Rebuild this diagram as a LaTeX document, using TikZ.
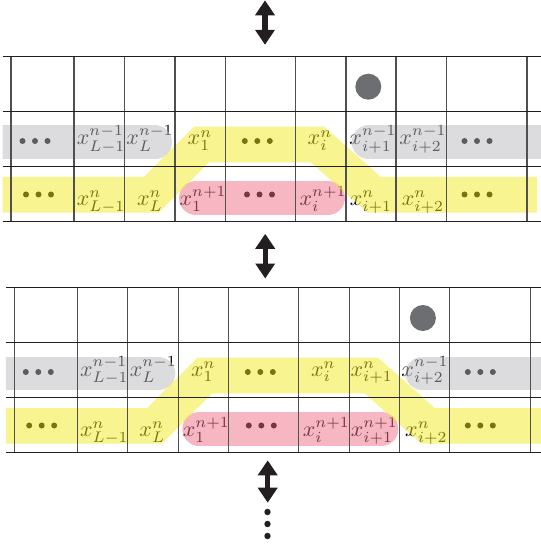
\documentclass[tikz,border=0pt]{standalone}
\usetikzlibrary{arrows.meta}
\definecolor{bandgray}{RGB}{185,185,189}
\definecolor{bandyellow}{RGB}{241,233,31}
\definecolor{bandpink}{RGB}{237,111,135}
\definecolor{hlinec}{RGB}{35,31,32}
\definecolor{vlinec}{RGB}{80,80,82}
\definecolor{ballc}{RGB}{109,110,113}
\definecolor{arrowc}{RGB}{35,31,32}
\newcommand{\threedots}[2]{%
  \fill (#1-12.5,#2) circle[radius=3];
  \fill (#1,#2) circle[radius=3];
  \fill (#1+12.5,#2) circle[radius=3];}
\newcommand{\gridlines}{%
  \foreach \vx in {11,74,124.5,175,225.5,295.5,346,396,446.5,527}
    \draw[vline] (\vx,56.5) -- (\vx,221.3);
  \foreach \hy in {56.5,111.5,166.5,221.3}
    \draw[hline] (2.5,\hy) -- (545,\hy);}
\begin{document}
\begin{tikzpicture}[x=0.4545pt,y=-0.4545pt,
  hline/.style={draw=hlinec,line width=0.6pt},
  vline/.style={draw=vlinec,line width=0.6pt},
  lbl/.style={anchor=base,inner sep=0pt,font=\fontsize{10}{12}\selectfont},
  band/.style={opacity=0.5,line join=miter},
  grayband/.style={band,draw=bandgray,line width=15.45pt,line cap=round},
  pinkband/.style={band,draw=bandpink,line width=15.45pt,line cap=round},
  yellowband/.style={band,draw=bandyellow,line width=16.2pt,line cap=butt},
  ball/.style={fill=ballc},
  bigarrow/.style={draw=arrowc,line width=2.3pt,
    {Triangle[width=8.6pt,length=6.8pt]}-{Triangle[width=8.6pt,length=6.8pt]}}]
\useasboundingbox (0,0) rectangle (540,548);

% ---------- top grid ----------
\begin{scope}
\clip (2.5,50) rectangle (545,230);
\node[lbl] (a21) at (101,145) {$x^{n-1}_{L-1}$};
\node[lbl] (a22) at (150,145) {$x^{n-1}_{L}$};
\node[lbl] (a23) at (200,145) {$x^{n}_{1}$};
\node[lbl] (a24) at (320,145) {$x^{n}_{i}$};
\node[lbl] (a25) at (373,145) {$x^{n-1}_{i+1}$};
\node[lbl] (a26) at (423,145) {$x^{n-1}_{i+2}$};
\node[lbl] (a31) at (101,205.5) {$x^{n}_{L-1}$};
\node[lbl] (a32) at (150,205.5) {$x^{n}_{L}$};
\node[lbl] (a33) at (203,205.5) {$x^{n+1}_{1}$};
\node[lbl] (a34) at (323,205.5) {$x^{n+1}_{i}$};
\node[lbl] (a35) at (371,205.5) {$x^{n}_{i+1}$};
\node[lbl] (a36) at (423,205.5) {$x^{n}_{i+2}$};
\threedots{35}{141}
\threedots{257.3}{141}
\threedots{477}{141}
\threedots{38.5}{194.5}
\threedots{259.5}{194.5}
\threedots{477}{194.5}
\draw[grayband] (-20,142.5) -- (155,142.5);
\draw[grayband] (368.7,142.5) -- (600,142.5);
\draw[pinkband] (196,198) -- (328,198);
\draw[yellowband] (-20,194.7) -- (151.5,194.7) -- (201.5,144.5) -- (317.5,144.5) -- (374,194.7) -- (537,194.7);
\gridlines
\fill[ball] (368.3,86.7) circle[radius=13];
\end{scope}

% ---------- bottom grid ----------
\begin{scope}[shift={(3.3,231)}]
\clip (2.5,50) rectangle (545,230);
\node[lbl] (b21) at (101,145) {$x^{n-1}_{L-1}$};
\node[lbl] (b22) at (150,145) {$x^{n-1}_{L}$};
\node[lbl] (b23) at (200,145) {$x^{n}_{1}$};
\node[lbl] (b24) at (320,145) {$x^{n}_{i}$};
\node[lbl] (b25) at (368.4,145) {$x^{n}_{i+1}$};
\node[lbl] (b26) at (421.7,145) {$x^{n-1}_{i+2}$};
\node[lbl] (b31) at (101,205.5) {$x^{n}_{L-1}$};
\node[lbl] (b32) at (149,205.5) {$x^{n}_{L}$};
\node[lbl] (b33) at (203,205.5) {$x^{n+1}_{1}$};
\node[lbl] (b34) at (323,205.5) {$x^{n+1}_{i}$};
\node[lbl] (b35) at (371,205.5) {$x^{n+1}_{i+1}$};
\node[lbl] (b36) at (423,205.5) {$x^{n}_{i+2}$};
\threedots{35}{141}
\threedots{257}{141}
\threedots{477}{141}
\threedots{38.4}{194.5}
\threedots{258}{194.5}
\threedots{477}{194.5}
\draw[grayband] (-20,142.5) -- (155,142.5);
\draw[grayband] (419.2,142.5) -- (600,142.5);
\draw[pinkband] (196,198) -- (378,198);
\draw[yellowband] (-20,194.7) -- (151.5,194.7) -- (201.5,144.5) -- (368,144.5) -- (424.5,194.7) -- (600,194.7);
\gridlines
\fill[ball] (419.6,87) circle[radius=13];
\end{scope}

% ---------- arrows ----------
\coordinate (t1) at (265,0.3);
\coordinate (t2) at (265,44.8);
\coordinate (m1) at (265.2,233.8);
\coordinate (m2) at (265.2,278.5);
\coordinate (u1) at (267.7,460.3);
\coordinate (u2) at (267.7,502.7);
\draw[bigarrow] (t1) -- (t2);
\draw[bigarrow] (m1) -- (m2);
\draw[bigarrow] (u1) -- (u2);
\fill[arrowc] (267.5,512) circle[radius=3.2];
\fill[arrowc] (267.5,524) circle[radius=3.2];
\fill[arrowc] (267.5,536) circle[radius=3.2];
\end{tikzpicture}
\end{document}
